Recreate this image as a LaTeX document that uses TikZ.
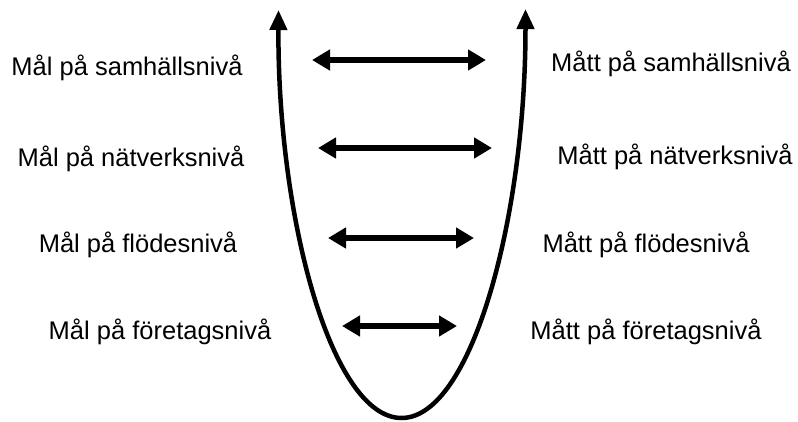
\documentclass[tikz,border=0pt]{standalone}
\usepackage{fontspec}
\setmainfont{Liberation Sans}
\usetikzlibrary{arrows.meta}
\tikzset{
  level/.style={anchor=base, inner sep=0pt, font=\fontsize{25.5}{30}\selectfont},
  link/.style={{Triangle[length=18pt,width=20pt]}-{Triangle[length=18pt,width=20pt]}, line width=6pt},
  valley/.style={{Triangle[length=20pt,width=17pt]}-{Triangle[length=20pt,width=17pt]}, line width=4.5pt}
}

\begin{document}
\begin{tikzpicture}[x=1pt,y=-1pt]
    \useasboundingbox (0,0) rectangle (798,421);

    % the U shaped curve
    \coordinate (topl) at (278.5,10);
    \coordinate (topr) at (525.5,9);
    \coordinate (bot) at (401.5,418);
    \draw[valley] (topl) .. controls (277.5,218) and (331.5,418) .. (bot)
      .. controls (471.5,418) and (525.5,218) .. (topr);

    % goals (left)
    \node[level] (goal1) at (127,75) {Mål på samhällsnivå};
    \node[level] (goal2) at (131,166) {Mål på nätverksnivå};
    \node[level] (goal3) at (138,252) {Mål på flödesnivå};
    \node[level] (goal4) at (160,339) {Mål på företagsnivå};

    % measures (right)
    \node[level] (meas1) at (671,71) {Mått på samhällsnivå};
    \node[level] (meas2) at (675,164) {Mått på nätverksnivå};
    \node[level] (meas3) at (646,252) {Mått på flödesnivå};
    \node[level] (meas4) at (646,339) {Mått på företagsnivå};

    % links between the levels
    \coordinate (l1) at (312,60);  \coordinate (r1) at (486,60);
    \coordinate (l2) at (318,148); \coordinate (r2) at (492,148);
    \coordinate (l3) at (328,238); \coordinate (r3) at (474,238);
    \coordinate (l4) at (342,326); \coordinate (r4) at (457,326);
    \foreach \i in {1,...,4}
      \draw[link] (l\i) -- (r\i);
\end{tikzpicture}
\end{document}
